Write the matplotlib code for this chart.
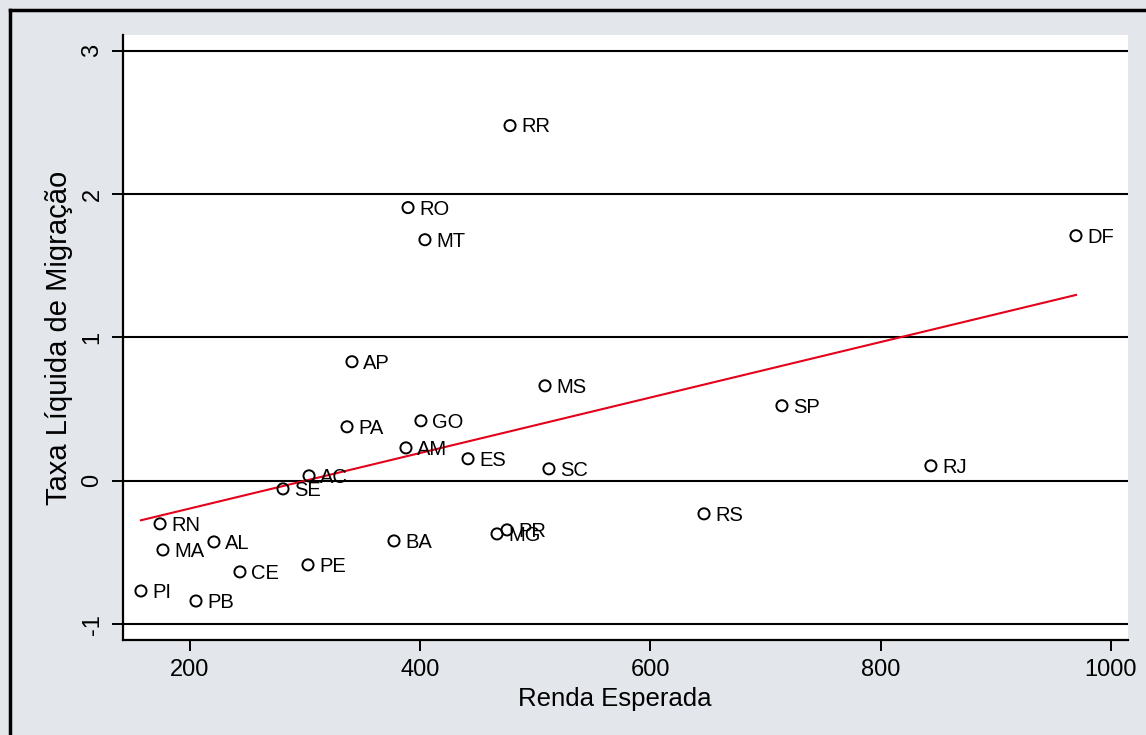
import numpy as np
import matplotlib.pyplot as plt
from matplotlib.lines import Line2D

plt.rcParams['font.family'] = ['Liberation Sans', 'DejaVu Sans']

# dados
ufs = ['RR', 'RO', 'MT', 'DF', 'AP', 'MS', 'SP', 'GO', 'PA', 'AM', 'ES', 'SC', 'RJ',
       'AC', 'SE', 'RN', 'RS', 'PR', 'MG', 'AL', 'BA', 'MA', 'PE', 'CE', 'PI', 'PB']
renda = [478.0, 389.4, 404.1, 969.6, 340.7, 508.4, 714.2, 400.6, 336.4, 387.6, 441.5, 511.8, 843.6,
         303.4, 280.8, 174.0, 646.5, 475.4, 466.7, 220.8, 377.2, 176.5, 302.5, 243.4, 157.4, 205.2]
taxa = [2.478, 1.906, 1.682, 1.710, 0.831, 0.663, 0.524, 0.419, 0.377, 0.230, 0.154, 0.084, 0.105,
        0.035, -0.056, -0.300, -0.230, -0.342, -0.370, -0.426, -0.419, -0.482, -0.586, -0.635, -0.768, -0.838]

bg = '#e3e6ea'
fig = plt.figure(figsize=(11.46, 7.35), dpi=100, facecolor=bg)
ax = fig.add_axes([123/1146, 1-640/735, (1128-123)/1146, (640-35)/735])
ax.set_facecolor('white')

# borda externa
fig.add_artist(Line2D([10/1146, 10/1146], [0, 1-10/735], color='black', lw=2.5, transform=fig.transFigure))
fig.add_artist(Line2D([10/1146, 1], [1-10/735, 1-10/735], color='black', lw=2.5, transform=fig.transFigure))

x = np.array(renda)
y = np.array(taxa)

# linhas de grade
for v in [-1, 0, 1, 2, 3]:
    ax.axhline(v, color='black', lw=1.5, zorder=1)

ax.scatter(x, y, s=64, facecolors='none', edgecolors='black', linewidths=1.4, zorder=3)
for lab, xi, yi in zip(ufs, x, y):
    ax.annotate(lab, (xi, yi), xytext=(8, -1), textcoords='offset points',
                va='center', ha='left', fontsize=14.5, zorder=4)

b, a = np.polyfit(x, y, 1)
xl = np.array([x.min(), x.max()])
ax.plot(xl, a + b*xl, color='#e4001b', lw=1.5, zorder=2)

ax.set_xlim(141.8, 1014.8)
ax.set_ylim(-1.11, 3.11)
ax.set_xticks([200, 400, 600, 800, 1000])
ax.set_yticks([-1, 0, 1, 2, 3])
ax.set_yticklabels(['-1', '0', '1', '2', '3'], rotation=90, va='center')
ax.tick_params(direction='out', length=8, width=1.4, labelsize=17, pad=6)
for s in ['top', 'right']:
    ax.spines[s].set_visible(False)
for s in ['left', 'bottom']:
    ax.spines[s].set_linewidth(1.6)
ax.set_xlabel('Renda Esperada', fontsize=18.5)
ax.xaxis.set_label_coords(0.489, -0.078)
ax.set_ylabel('Taxa Líquida de Migração', fontsize=21)
ax.yaxis.set_label_coords(-0.050, 0.5)

fig.savefig('out.png', dpi=100, facecolor=bg)
